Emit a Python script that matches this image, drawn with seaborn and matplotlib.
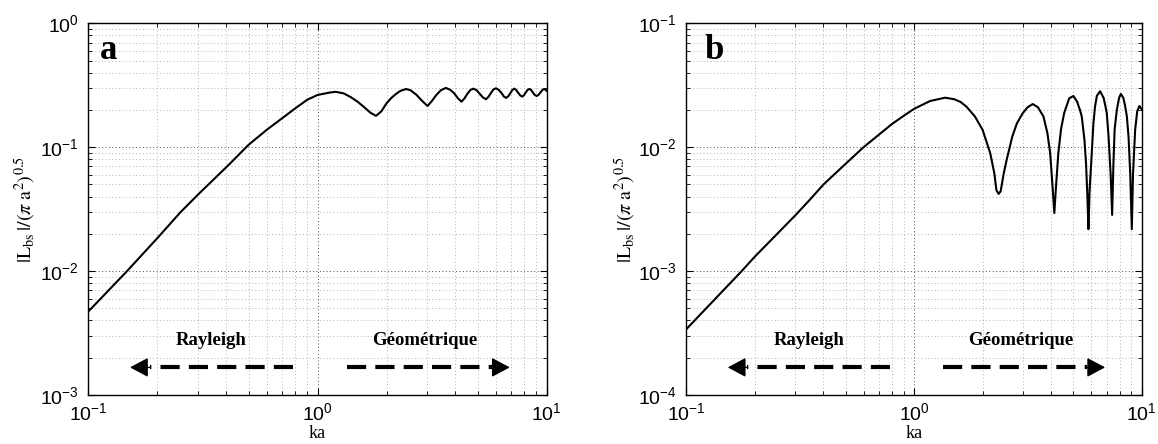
import numpy as np
import matplotlib
matplotlib.use('Agg')
import matplotlib.pyplot as plt
import seaborn as sns
from matplotlib.ticker import LogLocator, NullFormatter

# Panel a: |L_bs|/(pi a^2)^0.5 versus ka
ka_a = [0.1, 0.1475, 0.2, 0.2516, 0.3, 0.4, 0.416, 0.5, 0.6, 0.7, 0.8, 0.9,
        1.0, 1.13, 1.2, 1.3, 1.4, 1.5, 1.6, 1.7, 1.8, 1.9, 2.0, 2.1, 2.2,
        2.3, 2.436, 2.55, 2.7, 2.85, 3.02, 3.15, 3.3, 3.45, 3.63, 3.8, 3.95,
        4.1, 4.25, 4.38, 4.5, 4.65, 4.79, 4.95, 5.1, 5.27, 5.44, 5.57, 5.7,
        5.85, 6.01, 6.18, 6.35, 6.5, 6.65, 6.8, 6.95, 7.08, 7.22, 7.36, 7.5,
        7.66, 7.83, 7.96, 8.1, 8.25, 8.4, 8.55, 8.7, 8.87, 9.05, 9.22, 9.4,
        9.58, 9.76, 9.9, 10.0]
lbs_a = [0.00472, 0.0100, 0.01845, 0.0297, 0.0412, 0.0690, 0.0741, 0.1045,
         0.138, 0.171, 0.206, 0.241, 0.264, 0.276, 0.280, 0.272, 0.253,
         0.232, 0.210, 0.190, 0.179, 0.195, 0.226, 0.250, 0.269, 0.285,
         0.295, 0.288, 0.265, 0.238, 0.215, 0.235, 0.264, 0.288, 0.301,
         0.290, 0.272, 0.248, 0.233, 0.248, 0.269, 0.290, 0.297, 0.288,
         0.270, 0.252, 0.244, 0.255, 0.272, 0.292, 0.299, 0.290, 0.274,
         0.257, 0.250, 0.258, 0.274, 0.290, 0.297, 0.290, 0.276, 0.262,
         0.256, 0.263, 0.276, 0.290, 0.295, 0.290, 0.277, 0.264, 0.259,
         0.265, 0.277, 0.290, 0.295, 0.291, 0.284]

# Panel b
ka_b = [0.1, 0.175, 0.2, 0.3, 0.35, 0.4, 0.5, 0.6, 0.7, 0.8, 0.9, 1.0, 1.176,
        1.368, 1.5, 1.6, 1.7, 1.85, 2.0, 2.16, 2.25, 2.30, 2.35, 2.40, 2.47,
        2.55, 2.7, 2.83, 3.0, 3.15, 3.32, 3.5, 3.70, 3.85, 3.96, 4.05, 4.13,
        4.2, 4.30, 4.42, 4.56, 4.8, 5.01, 5.2, 5.35, 5.45, 5.6, 5.69, 5.77,
        5.83, 5.9, 6.03, 6.13, 6.23, 6.35, 6.56, 6.8, 6.92, 7.02, 7.15, 7.3,
        7.41, 7.5, 7.6, 7.77, 7.95, 8.09, 8.3, 8.45, 8.6, 8.75, 8.9, 9.04,
        9.15, 9.35, 9.55, 9.76, 10.0]
lbs_b = [3.4e-4, 1.0e-3, 1.31e-3, 2.8e-3, 3.8e-3, 5.0e-3, 7.33e-3, 0.0100,
         0.0126, 0.0154, 0.0179, 0.0204, 0.0236, 0.0251, 0.0244, 0.0232,
         0.0212, 0.0177, 0.0138, 0.00895, 0.0062, 0.0045, 0.0042, 0.0044,
         0.0060, 0.0079, 0.0122, 0.0156, 0.0188, 0.0210, 0.0223, 0.0210,
         0.0177, 0.0130, 0.00895, 0.0050, 0.00294, 0.0048, 0.00895, 0.0140,
         0.0188, 0.0248, 0.0259, 0.0233, 0.0200, 0.0177, 0.0115, 0.00743,
         0.0040, 0.00218, 0.0045, 0.00895, 0.0155, 0.0212, 0.0260, 0.0283,
         0.0250, 0.0215, 0.0188, 0.0120, 0.0060, 0.00284, 0.0070, 0.0140,
         0.0200, 0.0250, 0.0269, 0.0250, 0.0215, 0.0177, 0.0120, 0.0060,
         0.00218, 0.0060, 0.0138, 0.0195, 0.0215, 0.0202]

panel_names = ['a', 'b']
y_limits = [(1e-3, 1.0), (1e-4, 1e-1)]
region_labels = ['Rayleigh', 'Géométrique']

sns.set_style('ticks')
plt.rcParams['font.family'] = ['Liberation Sans', 'DejaVu Sans']
plt.rcParams['mathtext.fontset'] = 'custom'
plt.rcParams['mathtext.rm'] = 'Liberation Sans'
plt.rcParams['mathtext.it'] = 'Liberation Sans:italic'
plt.rcParams['mathtext.bf'] = 'Liberation Sans:bold'
for key in ['text.color', 'axes.labelcolor', 'xtick.color', 'ytick.color']:
    plt.rcParams[key] = 'k'

serif = ['Liberation Serif', 'DejaVu Serif']

fig = plt.figure(figsize=(11.58, 4.44), dpi=100)
ax_a = fig.add_axes([0.0763, 0.1104, 0.3958, 0.8371])
ax_b = fig.add_axes([0.5927, 0.1104, 0.3933, 0.8371])


def dashed_arrow(ax, x_start, x_base, x_tip, y):
    # dashed shaft, then a filled head
    ax.plot([x_start, x_base], [y, y], color='k', lw=3.0,
            dashes=(4.6, 2.2), dash_capstyle='butt')
    ax.annotate('', xy=(x_tip, y), xytext=(x_base, y),
                arrowprops=dict(arrowstyle='-|>,head_length=0.75,head_width=0.4',
                                color='k', lw=1.0, mutation_scale=15,
                                shrinkA=0, shrinkB=0))


for ax, ka, lbs, name, (ymin, ymax), lab_x, ylab_x in [
        (ax_a, ka_a, lbs_a, 'a', y_limits[0], 0.026, -0.110),
        (ax_b, ka_b, lbs_b, 'b', y_limits[1], 0.040, -0.106)]:
    sns.lineplot(x=ka, y=lbs, ax=ax, color='k', lw=1.5, estimator=None,
                 sort=False)
    ax.set_xscale('log')
    ax.set_yscale('log')
    ax.set_xlim(0.1, 10)
    ax.set_ylim(ymin, ymax)
    ax.xaxis.set_minor_locator(LogLocator(subs=np.arange(2, 10)))
    ax.yaxis.set_minor_locator(LogLocator(subs=np.arange(2, 10)))
    ax.xaxis.set_minor_formatter(NullFormatter())
    ax.yaxis.set_minor_formatter(NullFormatter())
    ax.grid(which='major', ls=(0, (1, 2.5)), color='0.3', lw=0.7)
    ax.grid(which='minor', ls=(0, (1, 2.5)), color='0.7', lw=0.7)
    ax.tick_params(which='both', direction='in', top=True, right=True,
                   colors='k')
    ax.tick_params(which='major', length=5, width=0.8, labelsize=14)
    ax.tick_params(which='minor', length=3, width=0.6)
    ax.tick_params(axis='x', pad=5)
    ax.tick_params(axis='y', pad=7)
    for s in ax.spines.values():
        s.set_color('k')
        s.set_linewidth(1.0)

    ax.set_xlabel('ka', family=serif, fontsize=13)
    ax.xaxis.set_label_coords(0.5, -0.08)
    ax.set_ylabel(r'$|\mathrm{L}_{\mathrm{bs}}\,|/(\pi\ \mathrm{a}^{2})^{0.5}$',
                  fontsize=14.5, math_fontfamily='stix')
    ax.yaxis.set_label_coords(ylab_x, 0.5)

    ax.text(lab_x, 0.904, name, transform=ax.transAxes, family=serif,
            fontsize=25, fontweight='bold', va='baseline', ha='left')

    y_arrow = ymin * 1.67
    y_text = ymin * 2.75
    dashed_arrow(ax, 0.785, 0.185, 0.152, y_arrow)
    dashed_arrow(ax, 1.345, 5.75, 6.90, y_arrow)
    ax.text(0.345, y_text, region_labels[0], ha='center', va='center',
            family=serif, fontsize=13.5, fontweight='bold')
    ax.text(2.95, y_text, region_labels[1], ha='center', va='center',
            family=serif, fontsize=13.5, fontweight='bold')

fig.savefig('out.png', dpi=100)
